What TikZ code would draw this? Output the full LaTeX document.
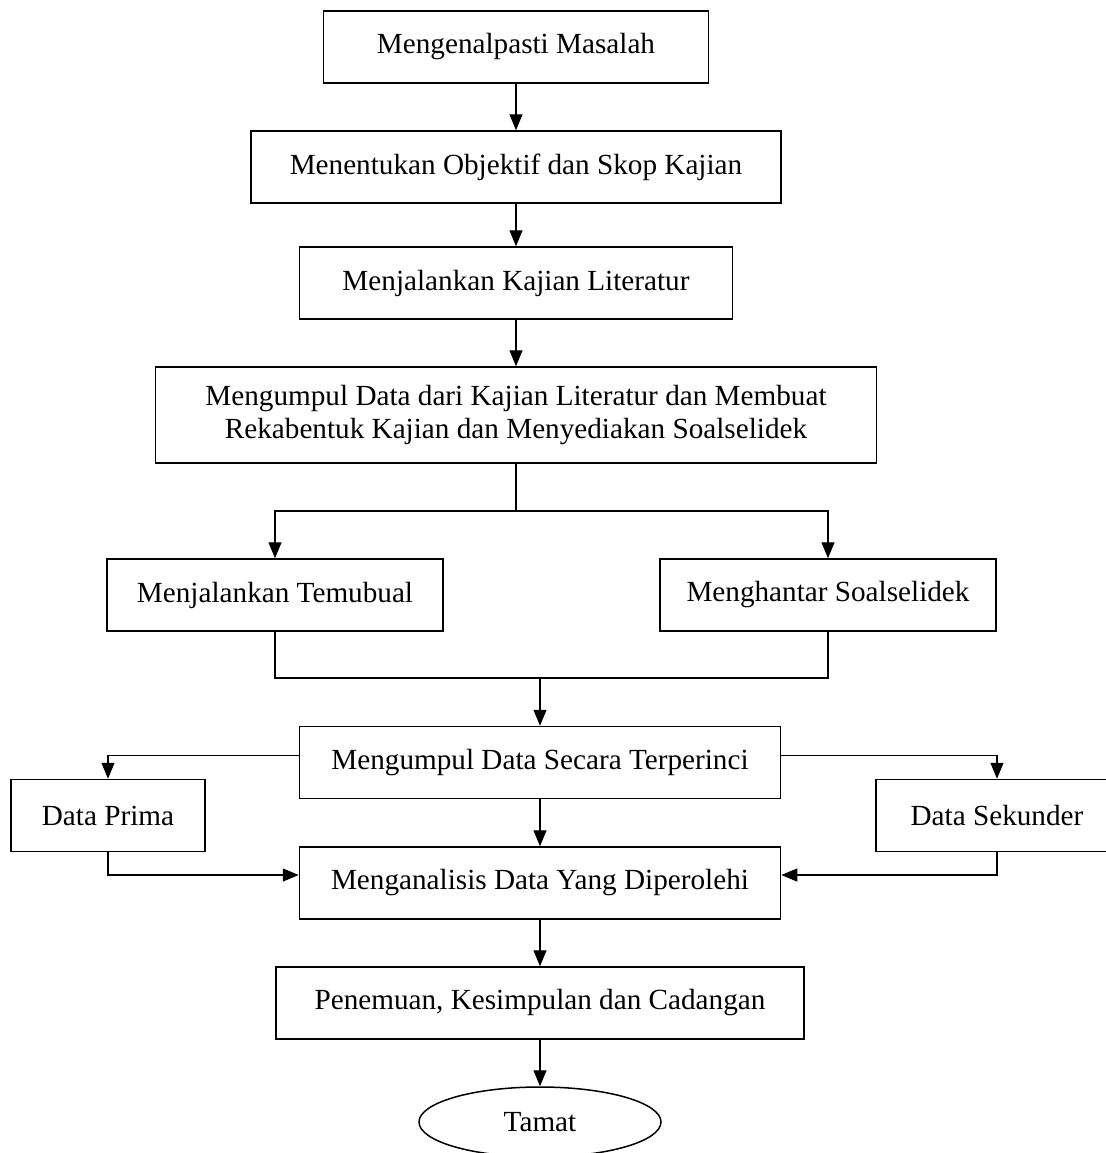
\documentclass[tikz,border=0pt]{standalone}
\usepackage{fontspec}
\setmainfont{Liberation Serif}
\usetikzlibrary{arrows.meta,shapes.geometric}
\begin{document}
\begin{tikzpicture}[x=0.5pt,y=-0.5pt,
  box/.style={draw,line width=0.75pt,inner sep=0pt,minimum height=36pt,align=center,
    font=\fontsize{14.6}{16.5}\selectfont},
  arr/.style={line width=0.6pt,-{Triangle[length=8pt,width=6.5pt]}},
  ln/.style={line width=0.6pt}]
\useasboundingbox (0,0) rectangle (1106,1153);
\node[box,minimum width=192.5pt] (m1) at (516,47) {Mengenalpasti Masalah};
\node[box,minimum width=265pt] (m2) at (516,167) {Menentukan Objektif dan Skop Kajian};
\node[box,minimum width=216.5pt] (m3) at (516,283) {Menjalankan Kajian Literatur};
\node[box,minimum width=360.5pt,minimum height=48pt] (m4) at (516,415) {Mengumpul Data dari Kajian Literatur dan Membuat\\Rekabentuk Kajian dan Menyediakan Soalselidek};
\node[box,minimum width=168pt] (m5) at (275,595) {Menjalankan Temubual};
\node[box,minimum width=168pt] (m6) at (828,595) {Menghantar Soalselidek};
\node[box,minimum width=240.5pt] (m7) at (540,762.5) {Mengumpul Data Secara Terperinci};
\node[box,minimum width=97pt] (prima) at (108,815.5) {Data Prima};
\node[box,minimum width=121pt] (sekunder) at (997,815.5) {Data Sekunder};
\node[box,minimum width=240.5pt] (m8) at (540,883) {Menganalisis Data Yang Diperolehi};
\node[box,minimum width=264pt] (m9) at (540,1003) {Penemuan, Kesimpulan dan Cadangan};
\node[box,ellipse,minimum width=121pt,minimum height=35pt] (tamat) at (540,1122) {Tamat};
\coordinate (sp) at (516,511);
\coordinate (mg) at (540,678);
\draw[arr] (m1) -- (m2);
\draw[arr] (m2) -- (m3);
\draw[arr] (m3) -- (m4);
\draw[ln] (m4) -- (sp);
\draw[arr] (sp) -| (m5);
\draw[arr] (sp) -| (m6);
\draw[ln] (m5) |- (mg) -| (m6);
\draw[arr] (mg) -- (m7);
\draw[arr] ([yshift=3.5pt]m7.west) -| (prima);
\draw[arr] ([yshift=3.5pt]m7.east) -| (sekunder);
\draw[arr] (m7) -- (m8);
\draw[arr] (prima) |- ([yshift=4pt]m8.west);
\draw[arr] (sekunder) |- ([yshift=4pt]m8.east);
\draw[arr] (m8) -- (m9);
\draw[arr] (m9) -- (tamat);
\end{tikzpicture}
\end{document}
